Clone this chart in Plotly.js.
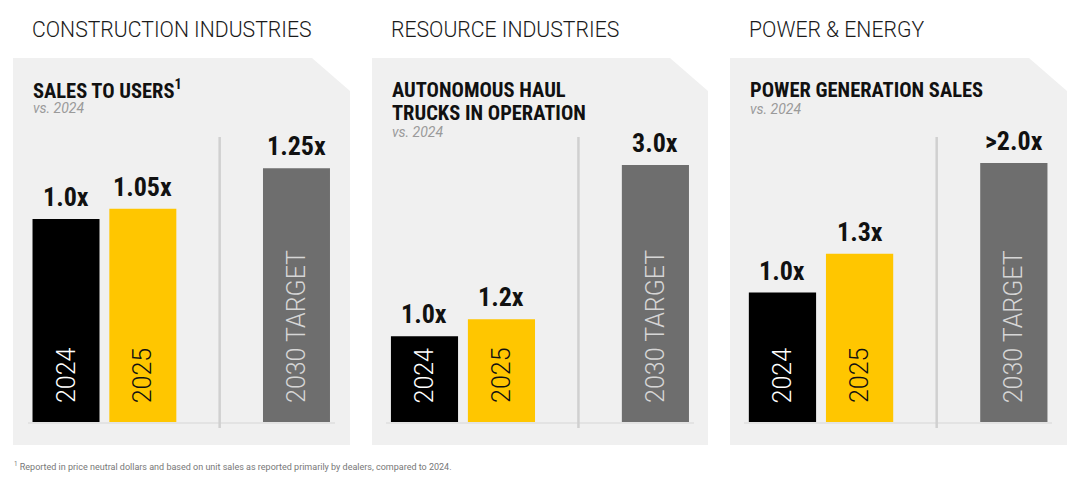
<!DOCTYPE html>
<html>
<head>
<meta charset="utf-8">
<script src="https://cdn.plot.ly/plotly-3.0.1.min.js"></script>
<style>
html,body{margin:0;padding:0;background:#ffffff;}
#chart{width:1080px;height:479px;}
</style>
</head>
<body>
<div id="chart"></div>
<script>
// ---- data ----
const categories = ['2024', '2025', '2030 TARGET'];
const slotOrder = ['2024', '2025', 'spacer', '2030 TARGET'];
const sectionTitles = ['CONSTRUCTION INDUSTRIES', 'RESOURCE INDUSTRIES', 'POWER & ENERGY'];
const metricTitles = ['SALES TO USERS<sup>1</sup>', 'AUTONOMOUS HAUL<br>TRUCKS IN OPERATION', 'POWER GENERATION SALES'];
const subtitles = ['vs. 2024', 'vs. 2024', 'vs. 2024'];
const constructionValues = [1.0, 1.05, 1.25];
const resourceValues = [1.0, 1.2, 3.0];
const powerValues = [1.0, 1.3, 2.0];
const constructionLabels = ['1.0x', '1.05x', '1.25x'];
const resourceLabels = ['1.0x', '1.2x', '3.0x'];
const powerLabels = ['1.0x', '1.3x', '>2.0x'];
const footnote = '<sup>1</sup> Reported in price neutral dollars and based on unit sales as reported primarily by dealers, compared to 2024.';

// ---- styling / layout ----
const W = 1080, H = 479;
const px = x => x / W;
const py = y => 1 - y / H;
const barColors = ['#000000', '#FFC600', '#6E6E6E'];
const inLabelColors = ['#ffffff', '#111111', '#d6d6d6'];
const condensed = '"Liberation Sans Narrow", "Arial Narrow", "Roboto Condensed", "DejaVu Sans Condensed", sans-serif';

const panels = [
  {values: constructionValues, labels: constructionLabels, box: [13, 350], xdom: [27.6, 334.9], ymax: 1.404,
   titleY: 89.5, subY: 108.5},
  {values: resourceValues, labels: resourceLabels, box: [372, 708], xdom: [386, 693.9], ymax: 3.326,
   titleY: 89.5, subY: 131.8},
  {values: powerValues, labels: powerLabels, box: [730, 1067], xdom: [743.9, 1052.4], ymax: 2.2008,
   titleY: 89.5, subY: 109.5}
];
const plotTop = 137, plotBottom = 422;

const data = [];
const shapes = [];
const annotations = [];
const layout = {
  width: W, height: H, autosize: false,
  margin: {l: 0, r: 0, t: 0, b: 0, pad: 0},
  paper_bgcolor: '#ffffff', plot_bgcolor: 'rgba(0,0,0,0)',
  showlegend: false, bargap: 0.128,
  font: {family: 'Roboto, "Liberation Sans", sans-serif', color: '#111'}
};

panels.forEach((p, i) => {
  const n = i === 0 ? '' : String(i + 1);
  const xa = 'x' + n, ya = 'y' + n;
  data.push({
    type: 'bar', x: categories, y: p.values, xaxis: xa, yaxis: ya,
    marker: {color: barColors, line: {width: 0}}, hoverinfo: 'skip', cliponaxis: false
  });
  layout['xaxis' + n] = {
    domain: [px(p.xdom[0]), px(p.xdom[1])], anchor: ya, type: 'category',
    categoryorder: 'array', categoryarray: slotOrder, range: [-0.5, 3.5],
    showticklabels: false, ticks: '', showgrid: false, zeroline: false,
    showline: true, linecolor: '#e3e3e3', linewidth: 1.5, fixedrange: true
  };
  layout['yaxis' + n] = {
    domain: [py(plotBottom), py(plotTop)], anchor: xa, range: [0, p.ymax],
    showticklabels: false, ticks: '', showgrid: false, zeroline: false, showline: false, fixedrange: true
  };
  // panel background with cut corner
  const L = px(p.box[0]), R = px(p.box[1]), T = py(58), B = py(445);
  const cutX = px(p.box[1] - 38), cutY = py(91);
  shapes.push({type: 'path', xref: 'paper', yref: 'paper', layer: 'below',
    path: `M ${L} ${B} L ${L} ${T} L ${cutX} ${T} L ${R} ${cutY} L ${R} ${B} Z`,
    fillcolor: '#f0f0f0', line: {width: 0}});
  // divider line at spacer slot
  shapes.push({type: 'line', xref: xa, yref: 'paper', x0: slotOrder.indexOf('spacer'), x1: slotOrder.indexOf('spacer'),
    y0: py(428), y1: py(137), line: {color: '#d0d0d0', width: 2.5}, layer: 'above'});
  // section title
  annotations.push({xref: 'paper', yref: 'paper', x: px(p.box[0] + 17), y: py(29.5), xanchor: 'left', yanchor: 'middle',
    text: sectionTitles[i], showarrow: false,
    font: {family: 'Roboto, sans-serif', size: 21.2, weight: 300, color: '#1a1a1a'}});
  // metric title (one annotation per line)
  metricTitles[i].split('<br>').forEach((line, k) => {
    annotations.push({xref: 'paper', yref: 'paper', x: px(p.box[0] + 18), y: py(p.titleY + 23 * k), xanchor: 'left', yanchor: 'middle',
      align: 'left', text: '<b>' + line + '</b>', showarrow: false,
      font: {family: condensed, size: 20.5, color: '#111111'}});
  });
  annotations.push({xref: 'paper', yref: 'paper', x: px(p.box[0] + 18), y: py(p.subY), xanchor: 'left', yanchor: 'middle',
    text: '<i>' + subtitles[i] + '</i>', showarrow: false,
    font: {family: 'Roboto, sans-serif', size: 14, color: '#9a9a9a'}});
  // value labels and rotated in-bar labels
  categories.forEach((c, j) => {
    const idx = slotOrder.indexOf(c);
    annotations.push({xref: xa, yref: ya, x: idx, y: p.values[j], xanchor: 'center', yanchor: 'bottom', yshift: 5,
      text: '<b>' + p.labels[j] + '</b>', showarrow: false,
      font: {family: condensed, size: 26, color: '#111111'}});
    annotations.push({xref: xa, yref: ya, x: idx, y: 0, xanchor: 'center', yanchor: 'bottom', yshift: 17,
      textangle: -90, text: c, showarrow: false,
      font: {family: 'Roboto, sans-serif', size: 25, weight: 300, color: inLabelColors[j]}});
  });
});

annotations.push({xref: 'paper', yref: 'paper', x: px(12), y: py(466), xanchor: 'left', yanchor: 'middle',
  text: footnote, showarrow: false, font: {family: 'Roboto, sans-serif', size: 9, color: '#777777'}});

layout.shapes = shapes;
layout.annotations = annotations;

Plotly.newPlot('chart', data, layout, {staticPlot: true, displayModeBar: false});
</script>
</body>
</html>
